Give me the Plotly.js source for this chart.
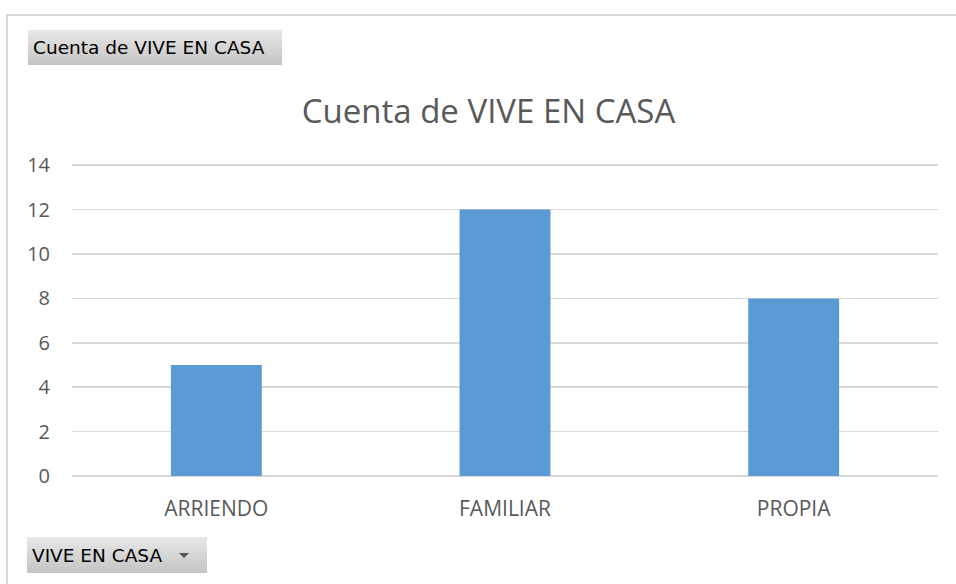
<!DOCTYPE html>
<html>
<head>
<meta charset="utf-8">
<script src="https://cdn.plot.ly/plotly-3.0.1.min.js"></script>
<style>
  html, body { margin: 0; padding: 0; background: #fff; }
  #wrap { position: relative; width: 956px; height: 584px; overflow: hidden; }
  #chart { position: absolute; left: 0; top: 0; width: 956px; height: 584px; }
  #frame { position: absolute; left: 6px; top: 14px; width: 960px; height: 600px;
           border-left: 2px solid #d9d9d9; border-top: 2px solid #d9d9d9; pointer-events: none; }
  .btn { position: absolute; font-family: Tahoma, "DejaVu Sans", sans-serif; font-size: 18.5px; color: #000;
         background: linear-gradient(#e8e8e8, #c4c4c4); box-sizing: border-box; padding-left: 5px;
         display: flex; align-items: center; }
  #b1 { left: 28px; top: 30px; width: 254px; height: 35px; }
  #b2 { left: 27px; top: 537px; width: 180px; height: 36px; }
  .arrow { display: inline-block; width: 0; height: 0; margin-left: 17px;
           border-left: 5px solid transparent; border-right: 5px solid transparent; border-top: 5px solid #555; }
</style>
</head>
<body>
<div id="wrap">
  <div id="chart"></div>
  <div id="frame"></div>
  <div class="btn" id="b1">Cuenta de VIVE EN CASA</div>
  <div class="btn" id="b2">VIVE EN CASA<span class="arrow"></span></div>
</div>
<script>
const categories = ["ARRIENDO", "FAMILIAR", "PROPIA"];
const counts = [5, 12, 8];
const yTicks = [0, 2, 4, 6, 8, 10, 12, 14];
const chartTitle = "Cuenta de VIVE EN CASA";

const trace = {
  type: "bar",
  x: categories,
  y: counts,
  marker: { color: "#5b9bd5" },
  hoverinfo: "x+y"
};

const layout = {
  width: 956,
  height: 584,
  margin: { l: 72, r: 18, t: 163, b: 108 },
  paper_bgcolor: "#ffffff",
  plot_bgcolor: "#ffffff",
  bargap: 0.685,
  showlegend: false,
  font: { family: "Open Sans, sans-serif", color: "#595959" },
  title: {
    text: chartTitle,
    font: { family: "Open Sans, sans-serif", size: 33, color: "#595959" },
    xref: "container", x: 0.511, xanchor: "center",
    yref: "container", y: 1 - 111 / 584, yanchor: "middle"
  },
  xaxis: {
    type: "category",
    showgrid: false,
    showline: false,
    zeroline: false,
    ticks: "outside", ticklen: 14, tickcolor: "rgba(0,0,0,0)",
    tickfont: { size: 21, color: "#595959" }
  },
  yaxis: {
    range: [0, 14.1],
    tickvals: yTicks,
    showgrid: true,
    gridcolor: "#d9d9d9",
    gridwidth: 1.5,
    zeroline: true,
    zerolinecolor: "#d9d9d9",
    zerolinewidth: 1.5,
    showline: false,
    ticks: "outside", ticklen: 17, tickcolor: "rgba(0,0,0,0)",
    tickfont: { size: 20, color: "#595959" }
  }
};

Plotly.newPlot("chart", [trace], layout, { displayModeBar: false, staticPlot: true });
</script>
</body>
</html>
